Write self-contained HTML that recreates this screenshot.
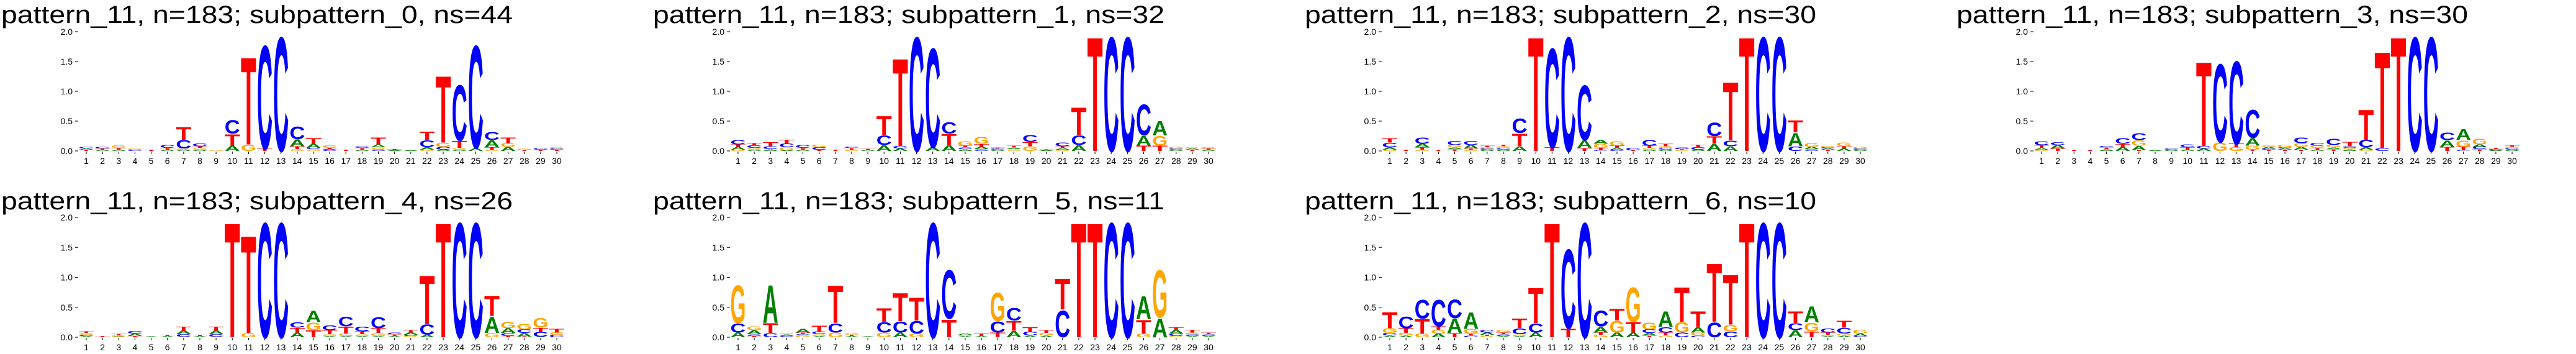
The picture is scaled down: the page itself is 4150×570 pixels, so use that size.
<!DOCTYPE html>
<html><head><meta charset="utf-8"><style>
html,body{margin:0;padding:0;background:#fff;width:4150px;height:570px;overflow:hidden;}
svg{display:block;overflow:hidden;}
</style></head><body>
<svg id="chart" xmlns="http://www.w3.org/2000/svg" width="4150" height="570" viewBox="0 0 4150 570"></svg>
<script>
const titles = ["pattern_11, n=183; subpattern_0, ns=44","pattern_11, n=183; subpattern_1, ns=32","pattern_11, n=183; subpattern_2, ns=30","pattern_11, n=183; subpattern_3, ns=30","pattern_11, n=183; subpattern_4, ns=26","pattern_11, n=183; subpattern_5, ns=11","pattern_11, n=183; subpattern_6, ns=10"];
const yTicks = [0, 0.5, 1.0, 1.5, 2.0];
const yTickLabels = ["0.0","0.5","1.0","1.5","2.0"];
const positions = [1,2,3,4,5,6,7,8,9,10,11,12,13,14,15,16,17,18,19,20,21,22,23,24,25,26,27,28,29,30];
const stacks0 = ["T.02 A.02 C.03","A.02 T.02 C.03","A.02 T.03 G.04","C.02 G.02","T.02","A.02 T.03 C.05","A.02 G.02 C.15 T.22","A.02 G.03 T.03 C.05","G.01","A.09 T.20 C.24","G.11 T1.53","T.04 C1.81","C2.0","G.03 T.05 A.12 C.22","G.03 C.02 A.07 T.1","C.02 A.01 T.02 G.04","T.02","A.02 T.03 C.03","C.03 G.03 A.05 T.12","A.01 T.02","A.01","G.02 A.04 C.12 T.15","A.02 C.05 G.07 T1.17","A.02 G.03 T.12 C.97","A.05 C1.8","G.02 T.04 A.12 C.14","A.07 G.06 T.1","T.01 G.03","T.02 C.03","T.02 C.02 G.02"];
const stacks1 = ["G.02 A.05 T.04 C.08","A.02 G.03 C.04 T.04","A.03 C.05 T.07","A.01 G.05 C.06 T.07","A.02 T.03 C.05","T.02 C.04 G.04","T.02","G.02 T.03 C.02","A.02 T.01","A.1 C.17 T.33","A.04 C.04 T1.54","C2.0","A.06 C1.74","A.1 T.19 C.2","A.03 C.03 T.03 G.08","C.03 A.04 T.05 G.12","A.02 C.02 T.01","G.03 A.03 T.03","G.08 T.07 C.12","A.01 T.01","G.02 A.03 T.03 C.06","A.1 C.17 T.48","T2.0","C2.0","C2.0","T.09 A.17 C.54","T.09 G.17 A.25","A.02 C.02 G.03","T.02 A.02 G.02","A.02 T.02 G.02"];
const stacks2 = ["G.02 A.04 C.08 T.08","T.01","G.02 T.04 A.06 C.11","T.01","T.03 A.03 G.04 C.07","G.02 T.02 A.06 C.07","A.02 C.02 G.02 T.03","A.02 C.03 G.03 T.03","A.08 T.22 C.25","T2.0","T.06 C1.74","C2.0","T.05 A.13 C.96","C.01 T.04 G.07 A.07","C.02 A.03 T.04 G.08","T.01 C.04","A.02 G.03 T.04 C.1","A.02 C.03 G.03 T.04","G.02 T.01 C.03","A.02 C.04 T.04","A.12 T.13 C.24","A.08 C.1 T1.02","T2.0","C2.0","C2.0","C.08 A.23 T.21","C.03 A.04 G.06","T.02 A.02 C.02 G.02","A.04 T.04 G.06","A.02 C.02 G.03"];
const stacks3 = ["G.02 A.03 T.05 C.06","T.04 A.06 C.05","T.01","T.01","A.03 T.03 C.02","A.07 T.05 C.1","T.01 A.08 G.09 C.12","A.01","A.02 C.02","A.02 T.04 C.05","A.04 C.04 T1.48","G.15 C1.37","G.06 T.06 C1.45","T.02 G.07 A.13 C.49","T.02 C.02 A.03 G.03","T.02 A.02 C.02 G.04","T.02 A.05 G.06 C.1","A.02 T.03 G.04 C.05","T.03 A.03 G.04 C.11","A.03 G.02 C.03 T.08","G.02 A.04 C.13 T.53","C.05 T1.69","T2.0","C2.0","C2.0","T.07 A.11 C.13","C.01 T.06 G.11 A.19","T.03 C.04 A.04 G.1","A.01 C.02 T.02","A.02 C.03 G.02 T.03"];
const stacks4 = ["A.02 C.02 G.03 T.03","T.02","A.01 G.02 T.03","T.02 A.04 C.04","A.01","A.02 T.02","G.01 C.04 A.06 T.07","A.02 T.02","G.01 C.04 A.06 T.07","T2.0","G.07 T1.7","C2.0","C2.0","A.08 T.08 C.09","T.12 G.13 A.2","A.02 G.03 T.07 C.08","A.02 G.04 T.12 C.17","A.02 G.03 T.05 C.08","A.02 G.05 T.08 C.19","A.02 T.03 C.03","G.02 C.02 A.04 T.04","A.04 C.18 T.85","T2.0","C2.0","C2.0","G.07 A.28 T.35","T.02 C.05 A.08 G.11","T.01 A.06 C.06 G.1","A.01 C.08 T.07 G.17","C.04 G.04 T.06"];
const stacks5 = ["A.08 C.16 G.66","T.02 C.03 A.07 G.06","C.07 T.17 A.66","C.02 A.03 G.01","G.03 C.02 T.03 A.06","A.02 G.03 C.05 T.1","G.08 C.16 T.65","A.02 T.02 G.03","A.01","G.08 C.18 T.24","A.08 C.19 T.49","G.06 C.22 T.4","C2.0","T.31 C.85","A.02 G.02 A.02","A.02 T.04","T.08 C.19 G.5","A.11 T.17 C.22","A.03 C.06 T.08","A.03 G.04 T.05","C.46 T.54","T2.0","T2.0","C2.0","C2.0","G.06 T.24 A.4","A.33 G.83","G.02 C.04 A.06 T.05","A.02 C.03 G.03 T.05","A.02 C.03 T.03"];
const stacks6 = ["A.03 C.04 G.08 T.28","A.03 G.04 T.08 C.2","G.06 T.25 C.33","A.06 G.06 T.06 C.46","T.07 A.25 C.32","C.03 T.03 G.08 A.29","G.02 T.02 A.04 C.05","A.02 C.03 T.03 G.05","A.02 G.03 C.1 T.17","A.08 C.16 T.62","T2.0","T.15 C1.38","C2.0","G.04 T.04 A.1 C.27","A.08 G.2 T.2","A.08 T.18 G.6","T.03 A.04 C.06 G.12","G.03 T.05 C.09 A.27","C.08 G.18 T.6","C.03 G.05 A.09 T.27","C.26 T1.02","C.1 G.11 T.87","T2.0","C2.0","C2.0","A.12 C.12 T.2","T.1 G.15 A.28","A.02 G.02 T.04 C.07","A.03 G.03 C.1 T.12","C.02 A.04 G.06"];
const allStacks = [stacks0, stacks1, stacks2, stacks3, stacks4, stacks5, stacks6];

const NS = "http://www.w3.org/2000/svg";
const svg = document.getElementById("chart");
const colors = {A:"#008000", C:"#0000ff", G:"#ffa500", T:"#ff0000"};
const panelX = [0, 1050, 2100, 3150, 0, 1050, 2100];
const panelRow = [0, 0, 0, 0, 1, 1, 1];
const rowY0 = [243, 543];
const rowPPB = [96, 96.5];
const rowTitleY = [37, 337];
const step = 26.14;

function mk(tag, attrs, parent){
  const e = document.createElementNS(NS, tag);
  for (const k in attrs) e.setAttribute(k, attrs[k]);
  parent.appendChild(e);
  return e;
}

titles.forEach((t, p) => {
  const ox = panelX[p], row = panelRow[p];
  const y0 = rowY0[row], ppb = rowPPB[row];
  const xs = i => ox + 139 + i * step;
  const ys = v => y0 - v * ppb;
  const g = mk("g", {}, svg);
  
  
  const tt = mk("text", {x: ox + 2, y: rowTitleY[row], "font-family": "Liberation Sans, sans-serif", "font-size": 40, textLength: 824, lengthAdjust: "spacingAndGlyphs", fill: "#000"}, g);
  tt.textContent = t;
  
  
  yTicks.forEach((v, k) => {
    const ln = mk("line", {x1: ox + 121, x2: ox + 126, y1: ys(v), y2: ys(v), stroke: "#000", "stroke-width": 1}, g);
    
    
    const lb = mk("text", {x: ox + 117, y: ys(v) + 5, "text-anchor": "end", "font-family": "Liberation Sans, sans-serif", "font-size": 14, fill: "#000"}, g);
    lb.textContent = yTickLabels[k];
    
    
  });
  positions.forEach((pos, i) => {
    const ln = mk("line", {x1: xs(i), x2: xs(i), y1: y0 + 1, y2: y0 + 5, stroke: "#000", "stroke-width": 1}, g);
    
    
    const lb = mk("text", {x: xs(i), y: y0 + 21, "text-anchor": "middle", "font-family": "Liberation Sans, sans-serif", "font-size": 14, fill: "#000"}, g);
    lb.textContent = String(pos);
    
    
  });
  const stacks = allStacks[p];
  stacks.forEach((s, i) => {
    let cum = 0;
    s.split(" ").forEach(tok => {
      const L = tok[0], h = parseFloat(tok.slice(1));
      if (!(h > 0)) return;
      const bottom = ys(cum), top = ys(cum + h);
      const hp = bottom - top;
      const sy = hp / 72.9;
      const tx = mk("text", {
        x: 0, y: 0,
        transform: "translate(" + (xs(i) - 12.5) + "," + bottom + ") scale(1," + sy + ")",
        "font-family": "Liberation Sans, sans-serif", "font-weight": "bold", "font-size": 100,
        textLength: 25, lengthAdjust: "spacingAndGlyphs", fill: colors[L]
      }, g);
      tx.textContent = L;
      
      
      cum += h;
    });
  });
});
</script>
</body></html>
